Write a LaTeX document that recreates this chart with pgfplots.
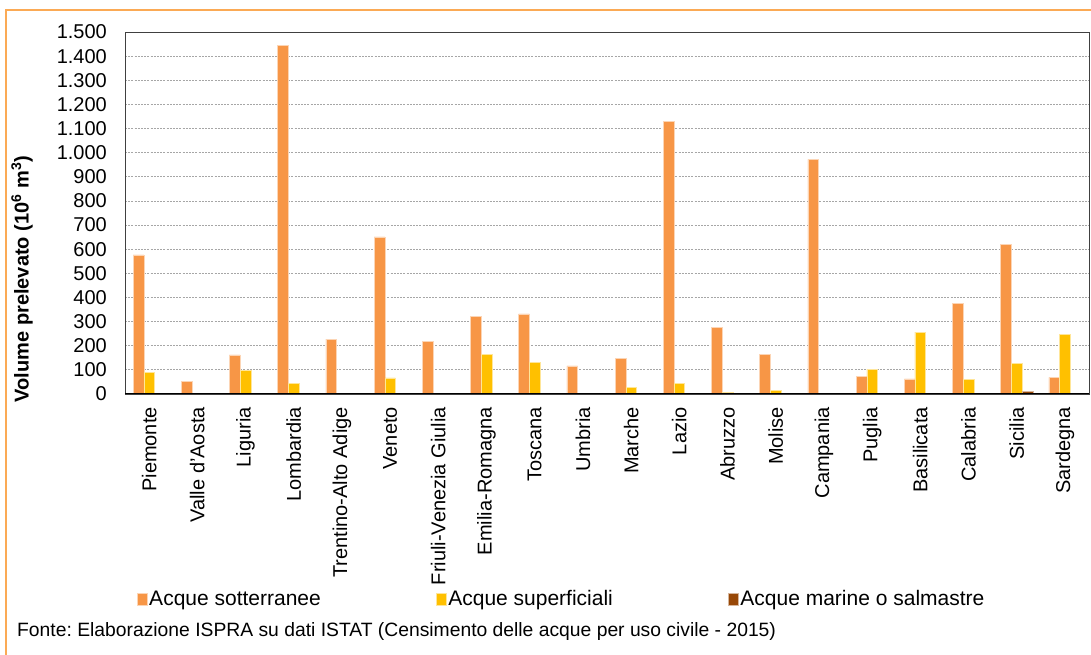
\documentclass[border=0pt]{standalone}
\usepackage{pgfplots}
\pgfplotsset{compat=1.18}
\usepackage{pgfplotstable}
\usepackage{fontspec}
\setmainfont{Liberation Sans}
\frenchspacing
\definecolor{cOr}{HTML}{F79646}
\definecolor{cYe}{HTML}{FFC000}
\definecolor{cBr}{HTML}{984807}
\definecolor{cFrame}{HTML}{FBAA55}
\pgfplotstableread{
idx sott sup mar
0 576 90 0
1 52 0 0
2 162 99 0
3 1443 45 0
4 227 2 0
5 651 67 0
6 219 2 0
7 322 165 0
8 332 132 0
9 116 0 0
10 147 28 0
11 1130 44 0
12 277 8 0
13 164 16 0
14 972 0 0
15 74 102 0
16 63 256 0
17 376 61 0
18 621 128 12
19 69 247 0
}\datatable
\begin{document}
\begin{tikzpicture}[x=1bp,y=1bp]
\useasboundingbox (0,0) rectangle (1091,655);
\draw[cFrame, line width=2bp] (6,0) -- (6,645) -- (1091,645);
\begin{axis}[
  at={(125bp,261bp)}, anchor=south west,
  scale only axis, width=964bp, height=362bp,
  ybar=0pt, bar width=10.7bp,
  xmin=-0.5, xmax=19.5, ymin=0, ymax=1500,
  xtick={0,...,19},
  xticklabels={Piemonte,Valle d'Aosta,Liguria,Lombardia,Trentino-Alto Adige,Veneto,Friuli-Venezia Giulia,Emilia-Romagna,Toscana,Umbria,Marche,Lazio,Abruzzo,Molise,Campania,Puglia,Basilicata,Calabria,Sicilia,Sardegna},
  ytick={0,100,...,1500},
  major tick length=0pt,
  xticklabel style={rotate=90, anchor=east, inner sep=0pt, font=\fontsize{20bp}{24bp}\selectfont},
  xticklabel shift=13bp,
  yticklabel style={inner sep=0pt, font=\fontsize{20bp}{24bp}\selectfont},
  yticklabel shift=18bp,
  /pgf/number format/.cd, assume math mode=true, 1000 sep={.}, /pgfplots/.cd,
  scaled y ticks=false,
  ymajorgrids,
  grid style={gray!70, line width=0.8bp, dash pattern=on 2bp off 1.2bp},
  axis line style={black!75, line width=0.8bp},
  legend columns=3,
  legend style={at={(axis description cs:0.0125,-0.566)}, anchor=west, draw=none, fill=none,
    inner sep=0pt, font=\fontsize{21bp}{25bp}\selectfont,
    nodes={inner sep=1.5bp},
    /tikz/every odd column/.style={column sep=0pt},
    /tikz/every even column/.style={column sep=114bp}},
  legend image code/.code={\fill[#1] (0bp,-6bp) rectangle (10bp,6bp);},
]
\addplot[fill=cOr, draw=cOr!40!white, line width=0.5bp] table[x=idx, y=sott] {\datatable};
\addplot[fill=cYe, draw=cYe!40!white, line width=0.5bp] table[x=idx, y=sup] {\datatable};
\addplot[fill=cBr, draw=cBr!40!white, line width=0.5bp] table[x=idx, y=mar] {\datatable};
\legend{Acque sotterranee,Acque superficiali,Acque marine o salmastre}
\draw[black, line width=1.6bp] (rel axis cs:0,0) -- (rel axis cs:1,0);
\end{axis}
\node[rotate=90, font=\fontsize{20bp}{24bp}\selectfont\bfseries] at (22,376) {Volume prelevato (10\textsuperscript{6} m\textsuperscript{3})};
\node[anchor=west, inner sep=0pt, font=\fontsize{19.3bp}{23bp}\selectfont] at (17,23) {Fonte: Elaborazione ISPRA su dati ISTAT (Censimento delle acque per uso civile - 2015)};
\end{tikzpicture}
\end{document}
